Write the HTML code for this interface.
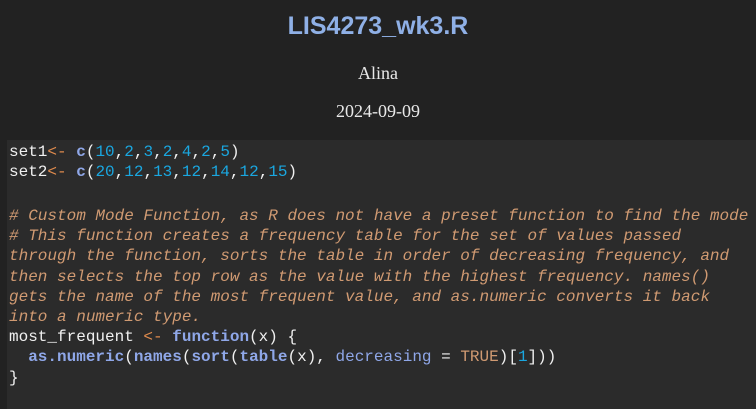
<!DOCTYPE html>
<html><head><style>
html,body{margin:0;padding:0;width:756px;height:409px;overflow:hidden;background:#222222;}
.t{position:absolute;left:0;width:756px;text-align:center;}
h1{position:absolute;left:0;width:756px;text-align:center;margin:0;top:12px;font:bold 25px "Liberation Sans",sans-serif;color:#8fb0e6;}
.s{font:18px "Liberation Serif",serif;color:#e8e8e8;}
pre{position:absolute;left:7px;top:140px;width:749px;height:269px;margin:0;background:#2b2b2b;padding:2px 0 0 2px;box-sizing:border-box;font:16px/20.2px "Liberation Mono",monospace;color:#f0f0f0;white-space:pre;overflow:hidden;}
.o{color:#e08b4d}.k{color:#8fa7e8;font-weight:bold}.n{color:#1aa7e0}.c{color:#d09a72;font-style:italic}.a{color:#8fa7e8}.b{color:#d09a72}
.gap{display:block;height:23.5px;}
</style></head><body>
<h1>LIS4273_wk3.R</h1>
<div class="t s" style="top:63px">Alina</div>
<div class="t s" style="top:101px">2024-09-09</div>
<pre>set1<span class="o">&lt;-</span> <span class="k">c</span>(<span class="n">10</span>,<span class="n">2</span>,<span class="n">3</span>,<span class="n">2</span>,<span class="n">4</span>,<span class="n">2</span>,<span class="n">5</span>)
set2<span class="o">&lt;-</span> <span class="k">c</span>(<span class="n">20</span>,<span class="n">12</span>,<span class="n">13</span>,<span class="n">12</span>,<span class="n">14</span>,<span class="n">12</span>,<span class="n">15</span>)
<span class="gap"></span><span class="c"># Custom Mode Function, as R does not have a preset function to find the mode
# This function creates a frequency table for the set of values passed
through the function, sorts the table in order of decreasing frequency, and
then selects the top row as the value with the highest frequency. names()
gets the name of the most frequent value, and as.numeric converts it back
into a numeric type.</span>
most_frequent <span class="o">&lt;-</span> <span class="k">function</span>(x) {
  <span class="k">as.numeric</span>(<span class="k">names</span>(<span class="k">sort</span>(<span class="k">table</span>(x), <span class="a">decreasing</span> = <span class="b">TRUE</span>)[<span class="n">1</span>]))
}</pre>
</body></html>
